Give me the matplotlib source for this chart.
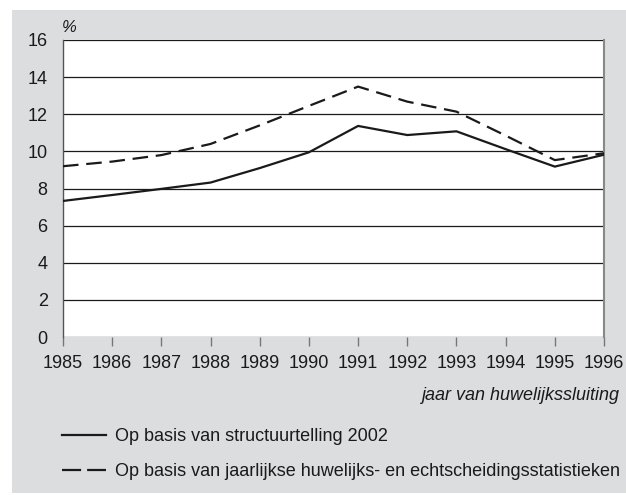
import matplotlib
matplotlib.use("Agg")
import matplotlib.pyplot as plt
from matplotlib.patches import Rectangle
from matplotlib.lines import Line2D

plt.rcParams['font.family'] = ['Liberation Sans', 'DejaVu Sans']

years = [1985, 1986, 1987, 1988, 1989, 1990, 1991, 1992, 1993, 1994, 1995, 1996]
structuurtelling = [7.33, 7.65, 7.98, 8.32, 9.1, 9.95, 11.37, 10.88, 11.08, 10.12, 9.18, 9.82]
jaarlijks = [9.2, 9.45, 9.8, 10.4, 11.4, 12.45, 13.49, 12.68, 12.14, 10.85, 9.53, 9.9]
series_labels = ["Op basis van structuurtelling 2002",
                 "Op basis van jaarlijkse huwelijks- en echtscheidingsstatistieken"]
y_ticks = [0, 2, 4, 6, 8, 10, 12, 14, 16]
x_label = "jaar van huwelijkssluiting"
y_unit = "%"

W, H = 626, 495
fig = plt.figure(figsize=(W / 100, H / 100), dpi=100)
fig.patch.set_facecolor('white')
gray = '#dcdddf'
fig.patches.append(Rectangle((12 / W, 1 - 493 / H), 1 - 12 / W, (493 - 10) / H,
                             transform=fig.transFigure, facecolor=gray,
                             edgecolor='none', zorder=-5))

ax = fig.add_axes([63 / W, 1 - 337 / H, (604 - 63) / W, (337 - 40) / H])
ax.set_zorder(2)
ax.set_facecolor('white')

ax.plot(years, structuurtelling, color='#1a1a1a', lw=1.6, solid_joinstyle='miter', zorder=3)
ax.plot(years, jaarlijks, color='#1a1a1a', lw=1.6, dashes=(7, 3.5), zorder=3)

ax.set_xlim(1985, 1996)
ax.set_ylim(0, 16)
ax.set_yticks(y_ticks)
ax.set_xticks(years)
ax.set_xticklabels([str(y) for y in years])
for t in y_ticks:
    ax.axhline(t, color='#1a1a1a', lw=0.9, zorder=1)

ax.tick_params(axis='y', length=0, pad=11, labelsize=13, labelcolor='#1a1a1a')
ax.tick_params(axis='x', length=6.5, width=1, color='#777777', direction='out',
               pad=6.5, labelsize=13, labelcolor='#1a1a1a')
ax.spines['top'].set_visible(False)
ax.spines['bottom'].set_visible(False)
ax.spines['left'].set_color('#555555')
ax.spines['left'].set_linewidth(1.0)
ax.spines['right'].set_color('#888888')
ax.spines['right'].set_linewidth(1.5)

fig.text(62 / W, 1 - 28 / H, y_unit, ha='left', va='center', fontsize=12,
         style='italic', color='#1a1a1a')
fig.text(619 / W, 1 - 396 / H, x_label, ha='right', va='center', fontsize=13,
         style='italic', color='#1a1a1a')

h1 = Line2D([], [], color='#1a1a1a', lw=1.6)
h2 = Line2D([], [], color='#1a1a1a', lw=1.6, dashes=(8.6, 2.7))
leg = fig.legend([h1, h2], series_labels, loc='upper left',
                 bbox_to_anchor=(62 / W, 1 - 428 / H), frameon=False,
                 fontsize=13, handlelength=2.44, handletextpad=0.5,
                 labelspacing=1.0, borderpad=0, borderaxespad=0)
for t in leg.get_texts():
    t.set_color('#1a1a1a')

fig.savefig('out.png', dpi=100)
